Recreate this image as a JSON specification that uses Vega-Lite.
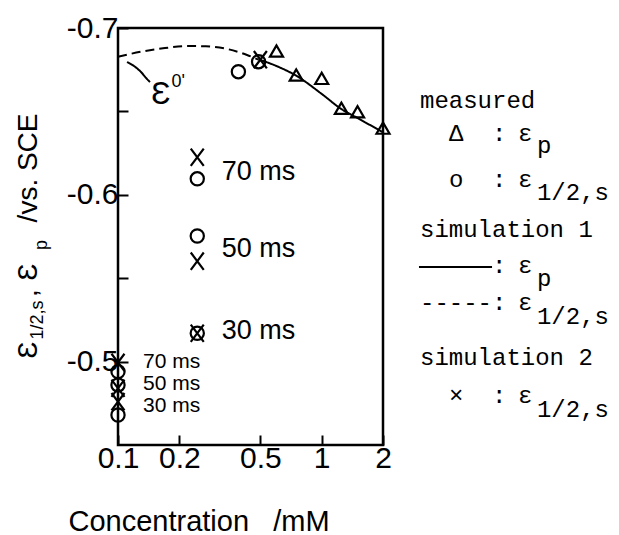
{
  "$schema": "https://vega.github.io/schema/vega-lite/v6.json",
  "width": 265,
  "height": 417,
  "autosize": {"type": "none"},
  "padding": {"left": 118, "top": 28, "right": 236, "bottom": 90},
  "background": "white",
  "config": {
    "view": {"stroke": "black", "strokeWidth": 2.5},
    "font": "Liberation Sans",
    "text": {"color": "black"}
  },
  "datasets": {
    "curves": [
      {"series": "s1h", "x": 0.1, "y": -0.6828},
      {"series": "s1h", "x": 0.13, "y": -0.6858},
      {"series": "s1h", "x": 0.17, "y": -0.688},
      {"series": "s1h", "x": 0.22, "y": -0.6892},
      {"series": "s1h", "x": 0.27, "y": -0.689},
      {"series": "s1h", "x": 0.35, "y": -0.6872},
      {"series": "s1h", "x": 0.43, "y": -0.6838},
      {"series": "s1h", "x": 0.49, "y": -0.681},
      {"series": "s1p", "x": 0.49, "y": -0.6812},
      {"series": "s1p", "x": 0.6, "y": -0.6772},
      {"series": "s1p", "x": 0.75, "y": -0.6714},
      {"series": "s1p", "x": 1.0, "y": -0.6605},
      {"series": "s1p", "x": 1.25, "y": -0.6514},
      {"series": "s1p", "x": 1.5, "y": -0.646},
      {"series": "s1p", "x": 2.0, "y": -0.6375},
      {"series": "arrow", "x": 0.1107, "y": -0.6796},
      {"series": "arrow", "x": 0.1198, "y": -0.6772},
      {"series": "arrow", "x": 0.1297, "y": -0.6736},
      {"series": "arrow", "x": 0.1388, "y": -0.6694},
      {"series": "arrow", "x": 0.1436, "y": -0.6676}
    ],
    "points": [
      {"series": "mp", "x": 0.6, "y": -0.6862},
      {"series": "mp", "x": 0.75, "y": -0.6718},
      {"series": "mp", "x": 1.0, "y": -0.6698},
      {"series": "mp", "x": 1.25, "y": -0.6519},
      {"series": "mp", "x": 1.5, "y": -0.6498},
      {"series": "mp", "x": 2.0, "y": -0.64},
      {"series": "mh", "x": 0.1, "y": -0.494},
      {"series": "mh", "x": 0.1, "y": -0.486},
      {"series": "mh", "x": 0.1, "y": -0.468},
      {"series": "mh", "x": 0.245, "y": -0.6096},
      {"series": "mh", "x": 0.245, "y": -0.5753},
      {"series": "mh", "x": 0.245, "y": -0.517},
      {"series": "mh", "x": 0.39, "y": -0.6738},
      {"series": "mh", "x": 0.49, "y": -0.6798},
      {"series": "s2", "x": 0.1, "y": -0.4995},
      {"series": "s2", "x": 0.1, "y": -0.484},
      {"series": "s2", "x": 0.1, "y": -0.476},
      {"series": "s2", "x": 0.245, "y": -0.6225},
      {"series": "s2", "x": 0.245, "y": -0.5602},
      {"series": "s2", "x": 0.245, "y": -0.517},
      {"series": "s2", "x": 0.5, "y": -0.681}
    ],
    "plotlabels": [
      {"x": 0.323, "y": -0.6134, "text": "70 ms"},
      {"x": 0.323, "y": -0.5675, "text": "50 ms"},
      {"x": 0.323, "y": -0.5186, "text": "30 ms"}
    ],
    "plotlabels2": [
      {"x": 0.1327, "y": -0.5, "text": "70 ms"},
      {"x": 0.1327, "y": -0.4868, "text": "50 ms"},
      {"x": 0.1327, "y": -0.4736, "text": "30 ms"}
    ],
    "ytitlemain": [
      {"x": 0.04, "y": -0.507, "text": "Ɛ"},
      {"x": 0.04, "y": -0.5411, "text": ","},
      {"x": 0.04, "y": -0.5537, "text": "Ɛ"},
      {"x": 0.04, "y": -0.6161, "text": "/vs. SCE"}
    ],
    "ytitlesub": [
      {"x": 0.0428, "y": -0.5249, "text": "1/2,s"},
      {"x": 0.0448, "y": -0.5699, "text": "p"}
    ],
    "epsmain": [
      {"x": 0.1626, "y": -0.6604, "text": "Ɛ"}
    ],
    "epssup": [
      {"x": 0.183, "y": -0.6675, "text": "0'"}
    ],
    "legendtext": [
      {"x": 3.038, "y": -0.652, "text": "measured"},
      {"x": 4.217, "y": -0.6323, "text": "Δ"},
      {"x": 6.855, "y": -0.6323, "text": ":"},
      {"x": 9.198, "y": -0.6323, "text": "ε"},
      {"x": 11.4, "y": -0.6251, "text": "p"},
      {"x": 4.217, "y": -0.6047, "text": "o"},
      {"x": 6.855, "y": -0.6047, "text": ":"},
      {"x": 9.198, "y": -0.6047, "text": "ε"},
      {"x": 11.4, "y": -0.5969, "text": "1/2,s"},
      {"x": 3.038, "y": -0.5747, "text": "simulation 1"},
      {"x": 6.855, "y": -0.5531, "text": ":"},
      {"x": 9.198, "y": -0.5531, "text": "ε"},
      {"x": 11.4, "y": -0.5453, "text": "p"},
      {"x": 3.038, "y": -0.5309, "text": "-----:"},
      {"x": 9.198, "y": -0.5309, "text": "ε"},
      {"x": 11.4, "y": -0.5225, "text": "1/2,s"},
      {"x": 3.038, "y": -0.498, "text": "simulation 2"},
      {"x": 4.217, "y": -0.4752, "text": "×"},
      {"x": 6.855, "y": -0.4752, "text": ":"},
      {"x": 9.198, "y": -0.4752, "text": "ε"},
      {"x": 11.4, "y": -0.4668, "text": "1/2,s"}
    ],
    "legendline": [
      {"x": 3.004, "x2": 6.86, "y": -0.5567}
    ]
  },
  "encoding": {
    "x": {
      "field": "x",
      "type": "quantitative",
      "scale": {"type": "log", "domain": [0.1, 2], "nice": false},
      "axis": {
        "values": [0.1, 0.2, 0.5, 1, 2],
        "labelExpr": "format(datum.value, '~g')",
        "labelFlush": false,
        "labelFontSize": 30,
        "labelColor": "black",
        "labelPadding": 8,
        "tickSize": -10,
        "tickWidth": 2,
        "tickColor": "black",
        "domain": false,
        "grid": false,
        "title": "Concentration\u00a0\u00a0\u00a0/mM",
        "titleFontSize": 29,
        "titleFontWeight": "normal",
        "titleColor": "black",
        "titleAnchor": "start",
        "titleAlign": "left",
        "titleBaseline": "alphabetic",
        "titleX": -50,
        "titleY": 85
      }
    },
    "y": {
      "field": "y",
      "type": "quantitative",
      "scale": {"domain": [-0.7, -0.45], "reverse": true, "nice": false, "zero": false},
      "axis": {
        "values": [-0.7, -0.65, -0.6, -0.55, -0.5],
        "labelExpr": "abs(datum.value*10 - round(datum.value*10)) < 0.001 ? '-' + format(-datum.value, '.1f') : ''",
        "labelFontSize": 30,
        "labelColor": "black",
        "labelPadding": 10,
        "tickSize": -10,
        "tickWidth": 2,
        "tickColor": "black",
        "domain": false,
        "grid": false,
        "title": null
      }
    }
  },
  "layer": [
    {
      "data": {"name": "curves"},
      "mark": {"type": "line", "color": "black", "strokeWidth": 2, "interpolate": "monotone"},
      "encoding": {
        "detail": {"field": "series"},
        "strokeDash": {
          "field": "series",
          "type": "nominal",
          "scale": {"domain": ["s1p", "s1h", "arrow"], "range": [[1, 0], [9, 5], [1, 0]]},
          "legend": null
        }
      }
    },
    {
      "data": {"name": "points"},
      "mark": {"type": "point", "filled": false, "color": "black", "strokeWidth": 2.2, "opacity": 1},
      "encoding": {
        "shape": {
          "field": "series",
          "type": "nominal",
          "scale": {"domain": ["mp", "mh", "s2"], "range": ["triangle-up", "circle", "M-0.75,-1L0.75,1M0.75,-1L-0.75,1"]},
          "legend": null
        },
        "size": {
          "field": "series",
          "type": "nominal",
          "scale": {"type": "ordinal", "domain": ["mp", "mh", "s2"], "range": [170, 175, 300]},
          "legend": null
        }
      }
    },
    {
      "data": {"name": "plotlabels"},
      "mark": {"type": "text", "align": "left", "baseline": "middle", "fontSize": 27},
      "encoding": {"text": {"field": "text"}}
    },
    {
      "data": {"name": "plotlabels2"},
      "mark": {"type": "text", "align": "left", "baseline": "middle", "fontSize": 21},
      "encoding": {"text": {"field": "text"}}
    },
    {
      "data": {"name": "ytitlemain"},
      "mark": {"type": "text", "align": "center", "baseline": "alphabetic", "fontSize": 28, "angle": 270},
      "encoding": {"text": {"field": "text"}}
    },
    {
      "data": {"name": "ytitlesub"},
      "mark": {"type": "text", "align": "center", "baseline": "alphabetic", "fontSize": 18, "angle": 270},
      "encoding": {"text": {"field": "text"}}
    },
    {
      "data": {"name": "epsmain"},
      "mark": {"type": "text", "align": "center", "baseline": "middle", "fontSize": 32},
      "encoding": {"text": {"field": "text"}}
    },
    {
      "data": {"name": "epssup"},
      "mark": {"type": "text", "align": "left", "baseline": "middle", "fontSize": 18},
      "encoding": {"text": {"field": "text"}}
    },
    {
      "data": {"name": "legendtext"},
      "mark": {"type": "text", "align": "left", "baseline": "alphabetic", "fontSize": 24, "font": "Liberation Mono"},
      "encoding": {"text": {"field": "text"}}
    },
    {
      "data": {"name": "legendline"},
      "mark": {"type": "rule", "color": "black", "strokeWidth": 2},
      "encoding": {"x2": {"field": "x2"}}
    }
  ]
}
